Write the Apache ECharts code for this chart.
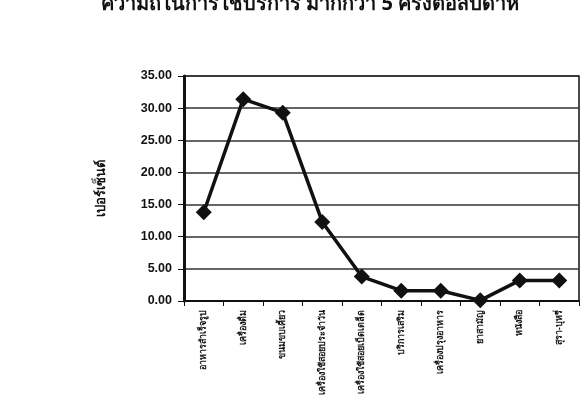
<!DOCTYPE html>
<html><head><meta charset="utf-8">
<script src="https://cdn.jsdelivr.net/npm/echarts@6/dist/echarts.min.js"></script>
<style>html,body{margin:0;padding:0;background:#fff}#c{width:587px;height:398px}</style>
</head><body><div id="c"></div>
<script>
const titleText = 'ความถี่ในการใช้บริการ มากกว่า 5 ครั้งต่อสัปดาห์';
const yAxisName = 'เปอร์เซ็นต์';
const categories = ['อาหารสำเร็จรูป','เครื่องดื่ม','ขนมขบเคี้ยว','เครื่องใช้สอยประจำวัน','เครื่องใช้สอยเบ็ดเตล็ด','บริการเสริม','เครื่องปรุงอาหาร','ยาสามัญ','หนังสือ','สุรา-บุหรี่'];
const values = [13.8, 31.4, 29.3, 12.3, 3.8, 1.6, 1.6, 0.1, 3.2, 3.2];
const yTicks = {min: 0, max: 35, interval: 5};

const chart = echarts.init(document.getElementById('c'), null, {renderer: 'canvas'});
chart.setOption({
  animation: false,
  backgroundColor: '#fff',
  title: {
    text: titleText, left: 305, textAlign: 'center', top: -11,
    textStyle: {fontFamily: 'Noto Sans', fontWeight: 'bold', fontSize: 20, color: '#111'}
  },
  grid: {left: 184, right: 8, top: 76, bottom: 96, show: true, borderColor: '#111', borderWidth: 1.5},
  xAxis: {
    type: 'category', data: categories, boundaryGap: true,
    axisLine: {lineStyle: {color: '#111', width: 2}},
    axisTick: {show: true, alignWithLabel: false, length: 5, lineStyle: {color: '#111'}},
    axisLabel: {rotate: 90, fontSize: 9, fontWeight: 'bold', color: '#111', fontFamily: 'Noto Sans', margin: 9, interval: 0}
  },
  yAxis: {
    type: 'value', min: yTicks.min, max: yTicks.max, interval: yTicks.interval,
    name: yAxisName, nameLocation: 'middle', nameGap: 76, nameRotate: 90,
    nameTextStyle: {fontFamily: 'Noto Sans', fontWeight: 'bold', fontSize: 13, color: '#111'},
    axisLine: {show: true, lineStyle: {color: '#111', width: 3}},
    axisTick: {show: true, length: 6, lineStyle: {color: '#111'}},
    axisLabel: {formatter: v => v.toFixed(2), fontFamily: 'Liberation Sans', fontWeight: 'bold', fontSize: 12.5, color: '#111', margin: 12},
    splitLine: {lineStyle: {color: '#333', width: 1.5}}
  },
  series: [{
    type: 'line', data: values,
    lineStyle: {color: '#111', width: 3.5},
    itemStyle: {color: '#111'},
    symbol: 'diamond', symbolSize: 16
  }]
});
</script></body></html>
